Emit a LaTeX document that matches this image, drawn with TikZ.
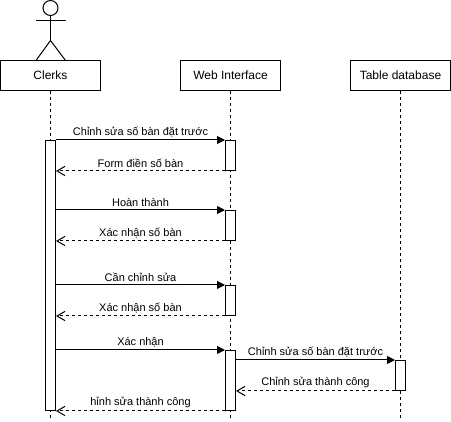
\documentclass[tikz,border=0pt]{standalone}
\usepackage{fontspec}
\setmainfont{Liberation Sans}
\usetikzlibrary{arrows.meta}
\tikzset{
  party/.style = {draw, fill=white, minimum width=100pt, minimum height=30pt, inner sep=0pt, font=\fontsize{12}{14}\selectfont},
  active/.style = {draw, fill=white, minimum width=10pt, inner sep=0pt},
  lifeline/.style = {dashed, dash pattern=on 3pt off 3pt},
  call/.style = {-{Triangle[length=8pt,width=8pt]}},
  back/.style = {yshift=-0.5pt, dash pattern=on 3pt off 3pt, -{Straight Barb[length=8pt,width=9pt,angle'=60]}},
  msg/.style = {midway, above, inner sep=0pt, yshift=2.8pt}
}
\begin{document}
\begin{tikzpicture}[x=1pt, y=-1pt, line width=1pt, font=\fontsize{11}{13}\selectfont]
    \useasboundingbox (0,0) rectangle (451,422);
    \node[party] (clerks) at (50.5,75.5) {Clerks};
    \node[party] (web) at (230.5,75.5) {Web Interface};
    \node[party] (table) at (400.5,75.5) {Table database};
    % actor
    \node[draw, circle, minimum size=15pt, inner sep=0pt] (head) at (50.5,8) {};
    \coordinate (hip) at (50.5,40.5);
    \coordinate (armL) at (36,20.5);
    \coordinate (armR) at (65.5,20.5);
    \coordinate (footL) at (36,60.5);
    \coordinate (footR) at (65.5,60.5);
    \draw (head) -- (hip);
    \draw (armL) -- (armR);
    \draw (footL) -- (hip) -- (footR);
    % lifelines
    \coordinate (clerksEnd) at (50.5,420);
    \coordinate (webEnd) at (230.5,420);
    \coordinate (tableEnd) at (400.5,420);
    \draw[lifeline] (clerks) -- (clerksEnd);
    \draw[lifeline] (web) -- (webEnd);
    \draw[lifeline] (table) -- (tableEnd);
    % activations
    \node[active, minimum height=270pt] (actC) at (50.5,275.5) {};
    \node[active, minimum height=30pt] (actA) at (230.5,155.5) {};
    \node[active, minimum height=30pt] (actB) at (230.5,225.5) {};
    \node[active, minimum height=30pt] (actD) at (230.5,300.5) {};
    \node[active, minimum height=60pt] (actE) at (230.5,380.5) {};
    \node[active, minimum height=30pt] (actT) at (400.5,375.5) {};
    % messages
    \draw[call] (actC.east |- actA.north) -- node[msg] {Chỉnh sửa số bàn đặt trước} (actA.north west);
    \draw[back] (actA.south west) -- node[msg] {Form điền số bàn} (actC.east |- actA.south);
    \draw[call] (actC.east |- actB.north) -- node[msg] {Hoàn thành} (actB.north west);
    \draw[back] (actB.south west) -- node[msg] {Xác nhận số bàn} (actC.east |- actB.south);
    \draw[call] (actC.east |- actD.north) -- node[msg] {Cần chỉnh sửa} (actD.north west);
    \draw[back] (actD.south west) -- node[msg] {Xác nhận số bàn} (actC.east |- actD.south);
    \draw[call] (actC.east |- actE.north) -- node[msg] {Xác nhận} (actE.north west);
    \draw[back] (actE.south west) -- node[msg] {hỉnh sửa thành công} (actC.south east);
    \draw[call] (actE.east |- actT.north) -- node[msg] {Chỉnh sửa số bàn đặt trước} (actT.north west);
    \draw[back] (actT.south west) -- node[msg] {Chỉnh sửa thành công} (actE.east |- actT.south);
\end{tikzpicture}
\end{document}
